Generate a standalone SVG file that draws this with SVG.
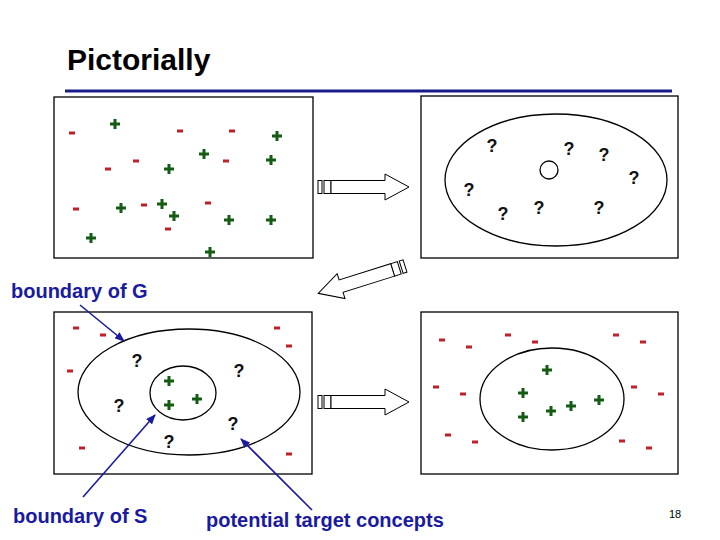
<svg xmlns="http://www.w3.org/2000/svg" width="720" height="540" viewBox="0 0 720 540">
<defs>
<style>
.t{font-family:"Liberation Sans",Arial,sans-serif;font-weight:bold}
.q{font-family:"Liberation Sans",Arial,sans-serif;font-size:18px;font-weight:bold;text-anchor:middle;fill:#111}
.lbl{font-family:"Liberation Sans",Arial,sans-serif;font-weight:bold;font-size:20px;fill:#1a1aa0}
.box{fill:none;stroke:#000;stroke-width:1.3}
.ell{fill:none;stroke:#000;stroke-width:1.3}
.ar{fill:#fff;stroke:#000;stroke-width:1}
.bl{stroke:#1a1aa0;stroke-width:1.6;fill:none}
</style>
<path id="p" d="M-5,0H5M0,-5V5" stroke="#145c14" stroke-width="3"/>
<rect id="m" x="-3" y="-1.5" width="6" height="3" fill="#c0202a"/>
<g id="arw"><rect class="ar" x="0" y="-6.5" width="4" height="13"/><rect class="ar" x="6" y="-6.5" width="7" height="13"/><path class="ar" d="M13,-6.5H67V-13L91,0L67,13V6.5H13Z"/></g>
<marker id="bh" markerWidth="10" markerHeight="8" refX="9" refY="4" orient="auto" markerUnits="userSpaceOnUse"><path d="M0,0L10,4L0,8Z" fill="#1a1aa0"/></marker>
</defs>
<rect width="720" height="540" fill="#fff"/>
<text class="t" x="67" y="70" font-size="30">Pictorially</text>
<rect x="65" y="89.5" width="607" height="3" fill="#1a1a8c"/>

<g id="box1">
<rect class="box" x="54" y="97" width="259" height="161"/>
<use href="#p" x="115" y="124"/><use href="#p" x="277" y="136"/><use href="#p" x="204" y="154"/><use href="#p" x="271" y="160"/><use href="#p" x="169" y="169"/><use href="#p" x="121" y="208"/><use href="#p" x="162" y="204"/><use href="#p" x="174" y="216"/><use href="#p" x="229" y="220"/><use href="#p" x="271" y="220"/><use href="#p" x="91" y="238"/><use href="#p" x="210" y="252"/>
<use href="#m" x="72" y="133"/><use href="#m" x="180" y="131"/><use href="#m" x="232" y="131"/><use href="#m" x="136" y="161"/><use href="#m" x="108" y="169"/><use href="#m" x="226" y="161"/><use href="#m" x="76" y="209"/><use href="#m" x="144" y="205"/><use href="#m" x="208" y="203"/><use href="#m" x="168" y="229"/>
</g>

<g id="box2">
<rect class="box" x="421" y="96" width="257" height="162"/>
<ellipse class="ell" cx="556" cy="180" rx="111" ry="66"/>
<circle class="ell" cx="549" cy="170" r="9" stroke-width="1"/>
<text class="q" x="492" y="152">?</text><text class="q" x="569" y="155">?</text><text class="q" x="604" y="161">?</text><text class="q" x="634" y="184">?</text><text class="q" x="469" y="196">?</text><text class="q" x="503" y="220">?</text><text class="q" x="539" y="214">?</text><text class="q" x="599" y="214">?</text>
</g>

<g id="box3">
<rect class="box" x="54" y="312" width="258" height="162"/>
<ellipse class="ell" cx="189" cy="392" rx="111" ry="63"/>
<ellipse class="ell" cx="183" cy="393" rx="33" ry="27"/>
<use href="#m" x="76" y="328"/><use href="#m" x="103" y="335"/><use href="#m" x="70" y="371"/><use href="#m" x="277" y="328"/><use href="#m" x="289" y="346"/><use href="#m" x="82" y="448"/><use href="#m" x="289" y="454"/>
<use href="#p" x="169" y="381"/><use href="#p" x="169" y="405"/><use href="#p" x="197" y="399"/>
<text class="q" x="137" y="367">?</text><text class="q" x="239" y="377">?</text><text class="q" x="119" y="412">?</text><text class="q" x="233" y="430">?</text><text class="q" x="169" y="448">?</text>
</g>

<g id="box4">
<rect class="box" x="421" y="312" width="257" height="162"/>
<ellipse class="ell" cx="552" cy="399" rx="72" ry="51"/>
<use href="#m" x="442" y="340"/><use href="#m" x="469" y="347"/><use href="#m" x="508" y="335"/><use href="#m" x="535" y="342"/><use href="#m" x="616" y="335"/><use href="#m" x="643" y="342"/><use href="#m" x="436" y="387"/><use href="#m" x="463" y="394"/><use href="#m" x="634" y="387"/><use href="#m" x="661" y="394"/><use href="#m" x="448" y="435"/><use href="#m" x="475" y="442"/><use href="#m" x="622" y="441"/><use href="#m" x="649" y="448"/>
<use href="#p" x="547" y="370"/><use href="#p" x="523" y="393"/><use href="#p" x="523" y="417"/><use href="#p" x="551" y="411"/><use href="#p" x="571" y="406"/><use href="#p" x="599" y="400"/>
</g>

<g id="connectors">
<use href="#arw" x="318" y="187"/>
<use href="#arw" x="318" y="402"/>
<use href="#arw" transform="translate(405,266) rotate(162.5)"/>
<line class="bl" x1="80" y1="305" x2="124" y2="341" marker-end="url(#bh)"/>
<line class="bl" x1="83" y1="497" x2="155" y2="415" marker-end="url(#bh)"/>
<line class="bl" x1="312" y1="510" x2="241" y2="439" marker-end="url(#bh)"/>
</g>

<text class="lbl" x="11" y="298">boundary of G</text>
<text class="lbl" x="13" y="523">boundary of S</text>
<text class="lbl" x="206" y="527">potential target concepts</text>
<text x="675" y="518" font-family="Liberation Sans,Arial,sans-serif" font-size="11" text-anchor="middle">18</text>
</svg>
